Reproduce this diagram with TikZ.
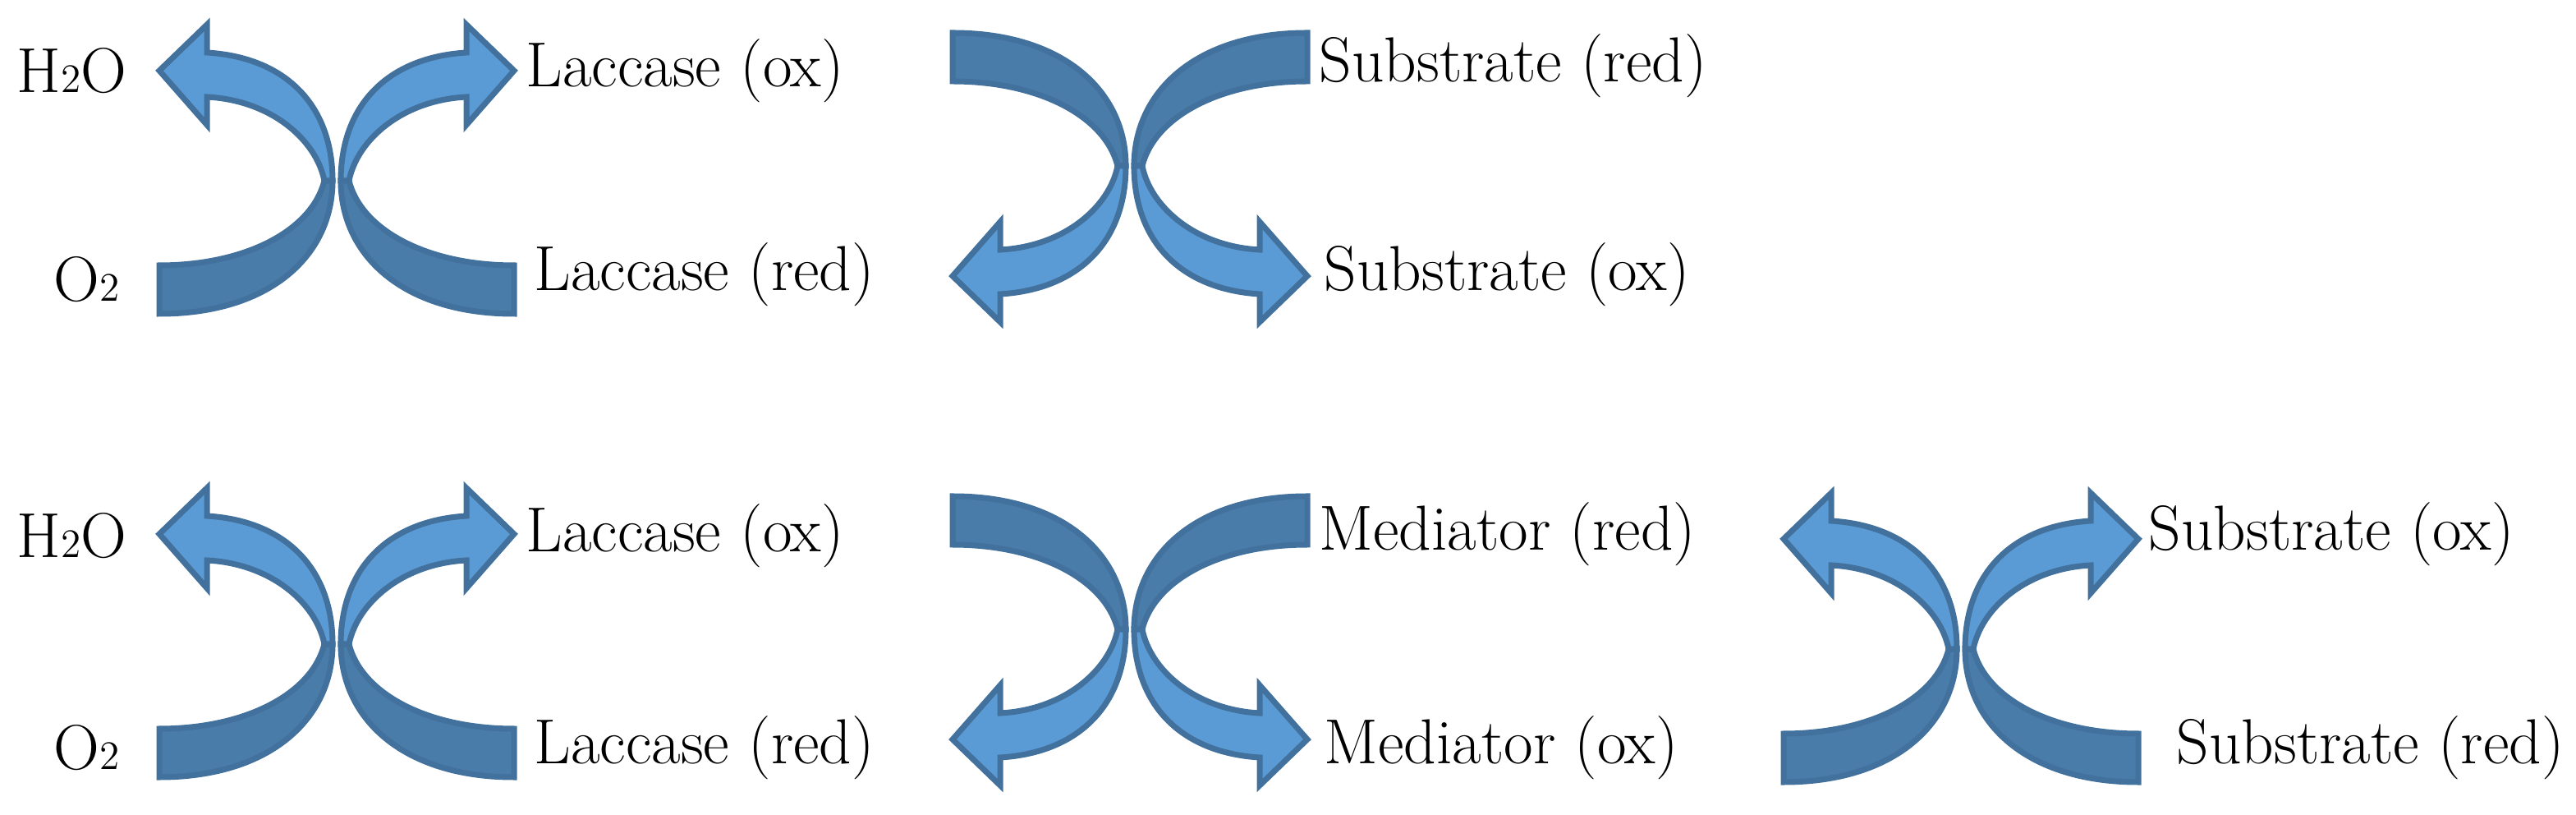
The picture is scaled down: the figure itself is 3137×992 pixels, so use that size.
\documentclass[tikz,border=0pt]{standalone}
\definecolor{lightb}{HTML}{5B9BD5}
\definecolor{darkb}{HTML}{4A7CAA}
\definecolor{edgeb}{HTML}{41719C}
\newcommand{\smalltwo}{{\fontsize{14}{14}\selectfont 2}}
\newcommand{\halfarrow}{%
    \filldraw[band]
      (-5,0) .. controls (-5,-90) and (-80,-162) .. (-216,-162) -- (-216,-103)
      .. controls (-110,-103) and (-30,-60) .. (-15,0) -- cycle;
    \filldraw[head]
      (-15,0) .. controls (-25,50) and (-80,98) .. (-158,102) -- (-158,68) -- (-216,134)
      -- (-158,190) -- (-158,156) .. controls (-60,150) and (-5,90) .. (-5,0) -- cycle;}
\newcommand{\arrowpair}[3]{%
  \begin{scope}[shift={(#1,#2)},yscale=#3]\halfarrow\end{scope}%
  \begin{scope}[shift={(#1,#2)},yscale=#3,xscale=-1]\halfarrow\end{scope}}
\begin{document}
\begin{tikzpicture}[x=0.01cm,y=-0.01cm,
  lbl/.style={font=\fontsize{22}{26}\selectfont, inner sep=0pt},
  band/.style={fill=darkb, draw=edgeb, line width=0.07cm, line join=miter},
  head/.style={fill=lightb, draw=edgeb, line width=0.07cm, line join=miter}]
\useasboundingbox (0,0) rectangle (3137,992);
% row 1
\arrowpair{410}{220}{-1}
\arrowpair{1376}{202}{1}
% row 2
\arrowpair{410}{784}{-1}
\arrowpair{1376}{766}{1}
\arrowpair{2388}{790}{-1}
% labels
\node[lbl, anchor=west] (h2o1) at (20,86) {H\smalltwo O};
\node[lbl, anchor=west] (lox1) at (640,86) {Laccase (ox)};
\node[lbl, anchor=east] (o21) at (146,340) {O\smalltwo};
\node[lbl, anchor=west] (lred1) at (650,334) {Laccase (red)};
\node[lbl, anchor=west] (sred1) at (1606,80) {Substrate (red)};
\node[lbl, anchor=west] (sox1) at (1612,334) {Substrate (ox)};
\node[lbl, anchor=west] (h2o2) at (20,652) {H\smalltwo O};
\node[lbl, anchor=west] (lox2) at (640,652) {Laccase (ox)};
\node[lbl, anchor=east] (o22) at (146,910) {O\smalltwo};
\node[lbl, anchor=west] (lred2) at (650,910) {Laccase (red)};
\node[lbl, anchor=west] (mred) at (1606,650) {Mediator (red)};
\node[lbl, anchor=west] (mox) at (1612,910) {Mediator (ox)};
\node[lbl, anchor=west] (sox2) at (2616,650) {Substrate (ox)};
\node[lbl, anchor=west] (sred2) at (2650,910) {Substrate (red)};
\end{tikzpicture}
\end{document}
